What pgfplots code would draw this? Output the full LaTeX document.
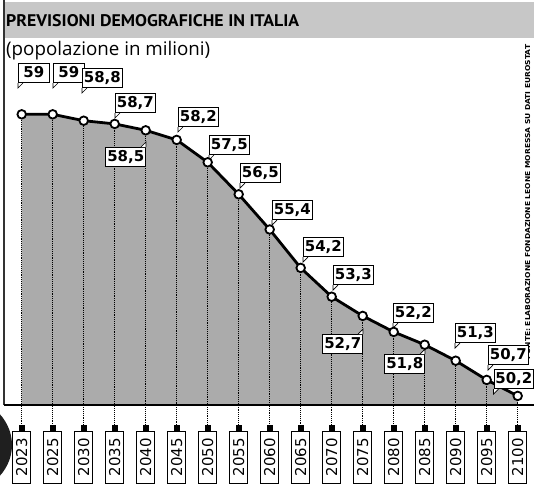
\documentclass[border=0pt]{standalone}
\usepackage{pgfplots}
\pgfplotsset{compat=1.18}
\usepackage{pgfplotstable}
\usepgfplotslibrary{fillbetween}
\usepackage{fontspec}
\setmainfont{DejaVu Sans}
\newfontfamily\dvb{DejaVu Sans}
\newfontfamily\osans{Open Sans}
\newfontfamily\ptsans{PT Sans}

\pgfplotstableread{
x y
0 59
1 59
2 58.8
3 58.7
4 58.5
5 58.2
6 57.5
7 56.5
8 55.4
9 54.2
10 53.3
11 52.7
12 52.2
13 51.8
14 51.3
15 50.7
16 50.2
}\popdata

\tikzset{vlab/.style={draw=black, line width=0.7bp, fill=white,
  font=\dvb\bfseries\fontsize{15}{15}\selectfont,
  inner xsep=1.5bp, inner ysep=3bp, text height=11bp, text depth=2bp,
  minimum width=31bp}}

\newcommand\lblBL[5]{%
  \node[vlab, anchor=south west] (tmp) at ([shift={(#4bp,#5bp)}]axis cs:#1,#2) {#3};
  \draw[line width=0.7bp, fill=white] (tmp.south west) -- ([yshift=-5bp]tmp.south west) -- ([xshift=5bp]tmp.south west);
}
\newcommand\lblTR[5]{%
  \node[vlab, anchor=north east] (tmp) at ([shift={(#4bp,-#5bp)}]axis cs:#1,#2) {#3};
  \draw[line width=0.7bp, fill=white] (tmp.north east) -- ([yshift=5bp]tmp.north east) -- ([xshift=-5bp]tmp.north east);
}
% point relative to the axis box's lower-left corner, in bp
\newcommand\RP[2]{([shift={(#1bp,#2bp)}]rel axis cs:0,0)}

\begin{document}
\begin{tikzpicture}
\begin{axis}[scale only axis,
  width=530bp, height=365bp,
  xmin=-0.571, xmax=16.526, ymin=49.916, ymax=61.322,
  clip=false, axis line style={draw=none},
  ytick=\empty, xtick={0,...,16},
  xticklabels={2023,2025,2030,2035,2040,2045,2050,2055,2060,2065,2070,2075,2080,2085,2090,2095,2100},
  major tick length=0pt,
  xticklabel shift=26bp,
  xticklabel style={font=\dvb\fontsize{15}{15}\selectfont, rotate=90, anchor=east,
    draw=black, line width=0.6bp, fill=white, inner xsep=2bp, inner ysep=3.5bp,
    text height=11bp, text depth=0bp, minimum width=52bp},
]
\coordinate (O) at (rel axis cs:0,0);
% title band and texts
\fill[black!22] \RP{0}{367} rectangle \RP{530}{403};
\node[anchor=base west, inner sep=0] at \RP{2}{378} {\resizebox{293bp}{12bp}{\ptsans\bfseries PREVISIONI DEMOGRAFICHE IN ITALIA}};
\node[anchor=base west, inner sep=0] at \RP{2}{349} {\resizebox{204bp}{!}{\osans (popolazione in milioni)}};
\node[rotate=90, anchor=base west, inner sep=0] at \RP{526}{45} {\resizebox{315bp}{5bp}{\dvb\bfseries FONTE: ELABORAZIONE FONDAZIONE LEONE MORESSA SU DATI EUROSTAT}};
\draw[line width=1.2bp, black!80] \RP{0}{0} -- \RP{0}{405};

\addplot[draw=none, name path=top, forget plot] table[x=x,y=y]{\popdata};
\addplot[draw=none, name path=base, forget plot] coordinates {(0,49.916) (16,49.916)};
\addplot[fill=black!33, draw=none, forget plot] fill between[of=top and base];
\draw[line width=1.8bp] (rel axis cs:0,0) -- (rel axis cs:1,0);
\pgfplotsinvokeforeach{0,...,16}{%
  \pgfplotstablegetelem{#1}{y}\of\popdata
  \edef\tmp{\noexpand\draw[black, densely dotted, line width=0.9bp] (axis cs:#1,\pgfplotsretval) -- (axis cs:#1,49.2) node[solid, fill=black, minimum size=6bp, inner sep=0pt] {};}%
  \tmp
}
\addplot[black, line width=2.8bp, mark=*, mark size=4.3bp,
  mark options={fill=white, draw=black, line width=1.8bp, solid}] table[x=x,y=y]{\popdata};

\lblBL{0}{59}{59}{-3.7}{31.3}
\lblBL{1}{59}{59}{0.3}{31.3}
\lblBL{2}{58.8}{58,8}{-1.7}{32.7}
\lblBL{3}{58.7}{58,7}{0.3}{10.9}
\lblTR{4}{58.5}{58,5}{0.3}{16.7}
\lblBL{5}{58.2}{58,2}{1.3}{12.9}
\lblBL{6}{57.5}{57,5}{1.3}{7.3}
\lblBL{7}{56.5}{56,5}{1.3}{11.3}
\lblBL{8}{55.4}{55,4}{2.3}{9.5}
\lblBL{9}{54.2}{54,2}{2.3}{10.9}
\lblBL{10}{53.3}{53,3}{1.3}{11.7}
\lblTR{11}{52.7}{52,7}{0.3}{18.1}
\lblBL{12}{52.2}{52,2}{-0.7}{8.9}
\lblTR{13}{51.8}{51,8}{0.3}{9.3}
\lblBL{14}{51.3}{51,3}{-0.7}{17.7}
\lblBL{15}{50.7}{50,7}{1.3}{14.9}
\lblBL{16}{50.2}{50,2}{-24.2}{6.9}
\end{axis}
% dark blob bottom-left
\begin{scope}
\clip ([shift={(-4bp,-79bp)}]O) rectangle ([shift={(530bp,405bp)}]O);
\fill[black!88] ([shift={(-49bp,-40bp)}]O) ellipse [x radius=57bp, y radius=50bp];
\end{scope}
\pgfresetboundingbox
\useasboundingbox ([shift={(-4bp,-79bp)}]O) rectangle ([shift={(530bp,405bp)}]O);
\end{tikzpicture}
\end{document}
